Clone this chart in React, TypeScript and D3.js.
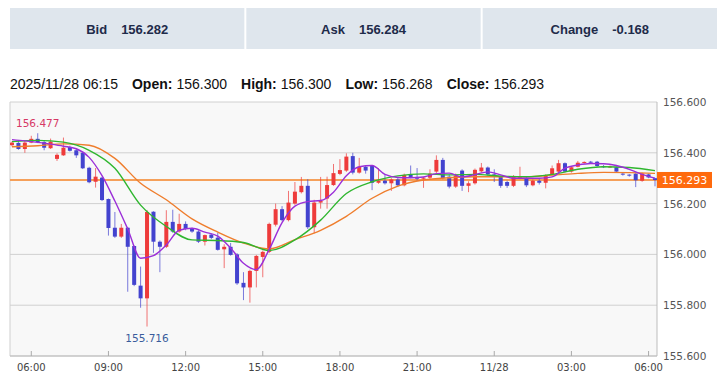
import React from "react";
import * as d3 from "d3";

// ---------- DATA ----------
const headerLabels = ["Bid", "Ask", "Change"];
const headerValues = ["156.282", "156.284", "-0.168"];

const infoDate = "2025/11/28 06:15";
const infoLabels = ["Open:", "High:", "Low:", "Close:"];
const infoValues = ["156.300", "156.300", "156.268", "156.293"];

// minutes since 11/27 00:00
const startMinute = 315; // 05:15
const stepMinutes = 15;

const opens = [
  156.430, 156.439, 156.415, 156.440, 156.455, 156.442, 156.418, 156.376, 156.390, 156.423,
  156.410, 156.400, 156.341, 156.286, 156.302, 156.218, 156.105, 156.070, 156.105, 156.033,
  155.877, 155.827, 156.168, 156.050, 156.030, 156.128, 156.090, 156.120, 156.100, 156.090,
  156.050, 156.078, 156.066, 156.020, 156.030, 156.000, 155.888, 155.870, 155.935, 155.990,
  156.010, 156.117, 156.178, 156.135, 156.200, 156.245, 156.270, 156.107, 156.204, 156.220,
  156.273, 156.317, 156.330, 156.387, 156.322, 156.345, 156.348, 156.282, 156.290, 156.280,
  156.295, 156.272, 156.313, 156.305, 156.298, 156.302, 156.326, 156.372, 156.306, 156.267,
  156.330, 156.270, 156.280, 156.327, 156.342, 156.315, 156.305, 156.285, 156.270, 156.300,
  156.300, 156.272, 156.290, 156.282, 156.313, 156.326, 156.359, 156.326, 156.345, 156.360,
  156.365, 156.365, 156.348, 156.343, 156.343, 156.318, 156.314, 156.318, 156.290, 156.315,
  156.300,
];
const highs = [
  156.445, 156.450, 156.448, 156.467, 156.477, 156.450, 156.456, 156.398, 156.460, 156.428,
  156.415, 156.405, 156.345, 156.340, 156.305, 156.220, 156.167, 156.120, 156.108, 156.035,
  155.952, 156.175, 156.170, 156.055, 156.174, 156.176, 156.160, 156.130, 156.105, 156.095,
  156.078, 156.082, 156.085, 156.040, 156.045, 156.005, 155.930, 155.940, 155.998, 156.015,
  156.125, 156.200, 156.190, 156.250, 156.285, 156.305, 156.296, 156.215, 156.305, 156.306,
  156.356, 156.375, 156.398, 156.400, 156.380, 156.350, 156.352, 156.340, 156.315, 156.300,
  156.300, 156.318, 156.350, 156.340, 156.305, 156.335, 156.390, 156.380, 156.315, 156.318,
  156.335, 156.288, 156.338, 156.360, 156.346, 156.335, 156.310, 156.290, 156.312, 156.345,
  156.305, 156.295, 156.296, 156.315, 156.350, 156.372, 156.362, 156.348, 156.368, 156.366,
  156.368, 156.368, 156.352, 156.350, 156.346, 156.320, 156.316, 156.320, 156.322, 156.318,
  156.300,
];
const lows = [
  156.425, 156.412, 156.400, 156.438, 156.438, 156.410, 156.415, 156.368, 156.388, 156.405,
  156.380, 156.336, 156.280, 156.263, 156.210, 156.074, 156.065, 156.065, 155.853, 155.875,
  155.790, 155.716, 156.006, 155.930, 156.025, 156.085, 156.085, 156.095, 156.085, 156.045,
  156.035, 156.060, 156.015, 155.946, 155.995, 155.880, 155.820, 155.810, 155.870, 155.910,
  156.005, 156.110, 156.130, 156.130, 156.195, 156.240, 156.100, 156.083, 156.180, 156.180,
  156.270, 156.312, 156.325, 156.315, 156.318, 156.318, 156.253, 156.278, 156.275, 156.250,
  156.265, 156.268, 156.300, 156.290, 156.262, 156.295, 156.320, 156.296, 156.260, 156.262,
  156.250, 156.245, 156.275, 156.322, 156.310, 156.285, 156.262, 156.262, 156.265, 156.296,
  156.265, 156.268, 156.275, 156.260, 156.310, 156.322, 156.322, 156.322, 156.343, 156.357,
  156.360, 156.345, 156.340, 156.340, 156.322, 156.310, 156.306, 156.265, 156.286, 156.300,
  156.268,
];
const closes = [
  156.440, 156.415, 156.440, 156.455, 156.442, 156.420, 156.444, 156.392, 156.420, 156.408,
  156.390, 156.339, 156.284, 156.306, 156.214, 156.104, 156.070, 156.105, 156.030, 155.880,
  155.827, 156.167, 156.050, 156.030, 156.128, 156.090, 156.120, 156.100, 156.090, 156.050,
  156.076, 156.065, 156.018, 156.030, 155.998, 155.886, 155.870, 155.935, 155.994, 156.010,
  156.120, 156.178, 156.135, 156.204, 156.247, 156.270, 156.107, 156.204, 156.210, 156.273,
  156.320, 156.332, 156.385, 156.322, 156.345, 156.330, 156.282, 156.290, 156.280, 156.295,
  156.272, 156.313, 156.305, 156.298, 156.302, 156.318, 156.372, 156.300, 156.267, 156.310,
  156.270, 156.280, 156.333, 156.342, 156.315, 156.305, 156.270, 156.270, 156.305, 156.304,
  156.272, 156.290, 156.282, 156.310, 156.339, 156.359, 156.326, 156.343, 156.361, 156.364,
  156.363, 156.348, 156.343, 156.346, 156.326, 156.314, 156.310, 156.292, 156.319, 156.303,
  156.293,
];

// moving averages
const maFastStep = 2; // candles between samples
const maFast = [
  156.452, 156.447, 156.441, 156.434, 156.426, 156.416, 156.382, 156.310, 156.210, 156.100,
  155.985, 155.995, 156.037, 156.095, 156.103, 156.088, 156.072, 156.025, 155.965, 155.940,
  156.020, 156.125, 156.190, 156.208, 156.212, 156.245, 156.310, 156.345, 156.350, 156.315,
  156.303, 156.302, 156.305, 156.318, 156.320, 156.305, 156.314, 156.325, 156.313, 156.300,
  156.300, 156.300, 156.305, 156.340, 156.352, 156.358, 156.357, 156.350, 156.335, 156.315,
  156.300,
];
const maSlowStep = 4;
const maMid = [
  156.444, 156.449, 156.442, 156.410, 156.339, 156.194, 156.110, 156.057, 156.055, 156.047,
  156.015, 156.057, 156.135, 156.240, 156.286, 156.309, 156.317, 156.313, 156.315, 156.308,
  156.306, 156.315, 156.335, 156.345, 156.342, 156.330,
];
const maSlow = [
  156.424, 156.428, 156.435, 156.430, 156.378, 156.280, 156.215, 156.140, 156.088, 156.045,
  156.022, 156.058, 156.095, 156.150, 156.221, 156.269, 156.293, 156.302, 156.306, 156.306,
  156.306, 156.312, 156.319, 156.323, 156.322, 156.319,
];

const yTicks = [155.6, 155.8, 156.0, 156.2, 156.4, 156.6];
const xTickMinutes = [360, 540, 720, 900, 1080, 1260, 1440, 1620, 1800];
const xTickLabels = ["06:00", "09:00", "12:00", "15:00", "18:00", "21:00", "11/28", "03:00", "06:00"];

const currentPrice = 156.293;
const maxPrice = 156.477;
const minPrice = 155.716;

// ---------- LAYOUT ----------
const W = 720;
const H = 380;
const plotL = 10;
const plotR = 657;
const plotT = 102;
const plotB = 356;

const UP = "#ee3b3b";
const DOWN = "#4343cf";

export default function App() {
  const n = closes.length;
  const times = closes.map((_, i) => startMinute + i * stepMinutes);
  const x = d3
    .scaleLinear()
    .domain([times[0], times[n - 1]])
    .range([plotL + 2, plotR - 2]);
  const y = d3.scaleLinear().domain([155.6, 156.6]).range([plotB, plotT]);

  const line = d3
    .line<[number, number]>()
    .x((d) => x(d[0]))
    .y((d) => y(d[1]))
    .curve(d3.curveMonotoneX);

  const fastPts: [number, number][] = maFast.map((v, i) => [startMinute + i * maFastStep * stepMinutes, v]);
  const midPts: [number, number][] = maMid.map((v, i) => [startMinute + i * maSlowStep * stepMinutes, v]);
  const slowPts: [number, number][] = maSlow.map((v, i) => [startMinute + i * maSlowStep * stepMinutes, v]);

  const maxIdx = highs.indexOf(d3.max(highs) as number);
  const minIdx = lows.indexOf(d3.min(lows) as number);

  const boxW = (W - 10 - 7) / 3;
  const bodyW = 4;

  return (
    <svg
      width={W}
      height={H}
      style={{ position: "absolute", left: 0, top: 0, background: "#fff" }}
      fontFamily="'Liberation Sans', Arial, sans-serif"
    >
      {/* header boxes */}
      {headerLabels.map((lab, i) => {
        const bx = 10 + i * (boxW + 2);
        return (
          <g key={lab}>
            <rect x={bx} y={8} width={boxW} height={41} fill="#dfe6ed" />
            <text
              x={bx + boxW / 2}
              y={33.5}
              textAnchor="middle"
              fontSize={13}
              fontWeight="bold"
              fill="#1e2b4a"
            >
              {lab}
              <tspan dx={14}>{headerValues[i]}</tspan>
            </text>
          </g>
        );
      })}

      {/* info line */}
      <text x={10} y={89} fontSize={14} fill="#111">
        {infoDate}
        {infoLabels.map((lab, i) => (
          <React.Fragment key={lab}>
            <tspan dx={14} fontWeight="bold">
              {lab}
            </tspan>
            <tspan dx={4}>{infoValues[i]}</tspan>
          </React.Fragment>
        ))}
      </text>

      {/* plot background */}
      <rect x={plotL} y={plotT} width={plotR - plotL} height={plotB - plotT} fill="#f8f8f8" />

      {/* grid */}
      {yTicks.map((t) => (
        <line key={t} x1={plotL} x2={plotR} y1={y(t)} y2={y(t)} stroke="#d0d0d0" strokeWidth={1} />
      ))}
      <line x1={plotL} x2={plotL} y1={plotT} y2={plotB} stroke="#cfcfcf" />
      <line x1={plotR} x2={plotR} y1={plotT} y2={plotB} stroke="#bdbdbd" />
      <line x1={plotL} x2={plotR} y1={plotB} y2={plotB} stroke="#bdbdbd" />

      {/* x ticks */}
      {xTickMinutes.map((m, i) => (
        <g key={i}>
          <line x1={x(m)} x2={x(m)} y1={plotB - 5} y2={plotB} stroke="#aaa" />
          <text
            x={x(m)}
            y={371}
            textAnchor="middle"
            fontSize={10}
            fontFamily="'DejaVu Sans', Verdana, sans-serif"
            fill="#444"
          >
            {xTickLabels[i]}
          </text>
        </g>
      ))}

      {/* y labels */}
      {yTicks.map((t) => (
        <text
          key={t}
          x={663}
          y={y(t) + 4}
          fontSize={10.5}
          fontFamily="'DejaVu Sans', Verdana, sans-serif"
          fill="#555"
        >
          {t.toFixed(3)}
        </text>
      ))}

      {/* current price line */}
      <line
        x1={plotL}
        x2={plotR}
        y1={y(currentPrice)}
        y2={y(currentPrice)}
        stroke="#f5a05a"
        strokeWidth={2}
      />

      {/* candles */}
      {closes.map((c, i) => {
        const o = opens[i];
        const up = c >= o;
        const col = up ? UP : DOWN;
        const cx = x(times[i]);
        const top = y(Math.max(o, c));
        const bot = y(Math.min(o, c));
        return (
          <g key={i}>
            <line
              x1={cx}
              x2={cx}
              y1={y(highs[i])}
              y2={y(lows[i])}
              stroke={col}
              strokeOpacity={0.7}
              strokeWidth={1}
            />
            <rect x={cx - bodyW / 2} y={top} width={bodyW} height={Math.max(1, bot - top)} fill={col} />
          </g>
        );
      })}

      {/* moving averages */}
      <path d={line(slowPts) || ""} fill="none" stroke="#ef7d2c" strokeWidth={1.4} />
      <path d={line(midPts) || ""} fill="none" stroke="#2fb62f" strokeWidth={1.4} />
      <path d={line(fastPts) || ""} fill="none" stroke="#9b2fd8" strokeWidth={1.4} />

      {/* max / min labels */}
      <text
        x={x(times[maxIdx])}
        y={y(maxPrice) - 6}
        textAnchor="middle"
        fontSize={10.5}
        fontFamily="'DejaVu Sans', Verdana, sans-serif"
        fill="#d63865"
      >
        {maxPrice.toFixed(3)}
      </text>
      <text
        x={x(times[minIdx])}
        y={y(minPrice) + 15}
        textAnchor="middle"
        fontSize={10.5}
        fontFamily="'DejaVu Sans', Verdana, sans-serif"
        fill="#3a5c9c"
      >
        {minPrice.toFixed(3)}
      </text>

      {/* current price tag */}
      <rect x={plotR} y={y(currentPrice) - 8} width={55} height={16} fill="#ff6a0d" />
      <text
        x={plotR + 27.5}
        y={y(currentPrice) + 4}
        textAnchor="middle"
        fontSize={11}
        fontFamily="'DejaVu Sans', Verdana, sans-serif"
        fill="#fff"
      >
        {currentPrice.toFixed(3)}
      </text>
    </svg>
  );
}
